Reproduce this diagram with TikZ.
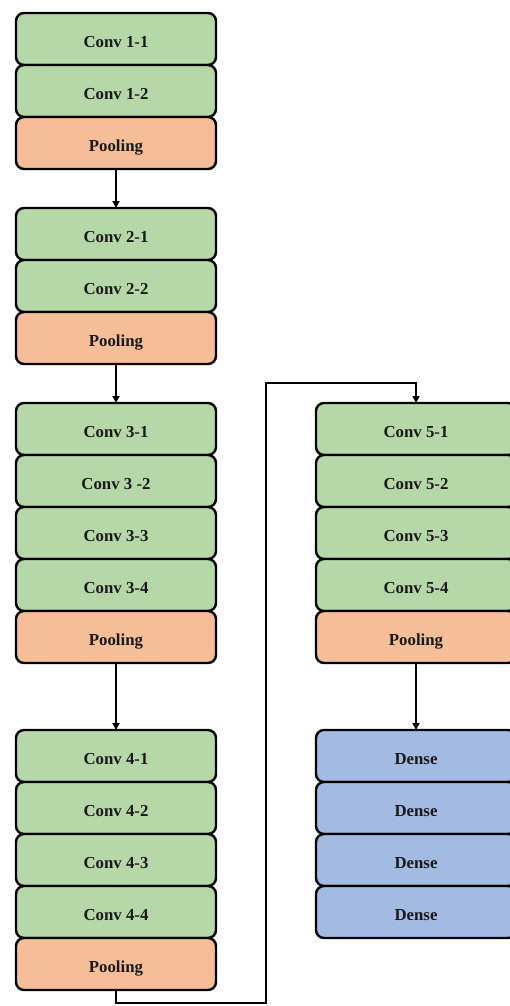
\documentclass[tikz,border=0pt]{standalone}
\usepackage{fontspec}
\setmainfont{Liberation Serif}
\usetikzlibrary{positioning,arrows.meta}
\definecolor{convgreen}{HTML}{B6D7A8}
\definecolor{poolorange}{HTML}{F6BE98}
\definecolor{denseblue}{HTML}{A3BAE2}
\tikzset{
  layer/.style = {draw=black, line width=2.4pt, rounded corners=8pt, outer sep=0pt,
    minimum width=200pt, minimum height=52pt, inner sep=0pt, text height=17pt, text depth=0pt,
    font=\fontsize{16.8}{18}\selectfont\bfseries, text=black!90},
  conv/.style = {layer, fill=convgreen},
  pool/.style = {layer, fill=poolorange},
  dense/.style = {layer, fill=denseblue},
  link/.style = {line width=2pt, -{Triangle[length=7pt,width=7pt]}},
  node distance=0pt,
}
\begin{document}
\begin{tikzpicture}[x=1pt,y=1pt]
\useasboundingbox (0,0) rectangle (510,-1006);
% block 1
\node [conv] (c11) at (116,-39) {Conv 1-1};
\node [conv, below=of c11] (c12) {Conv 1-2};
\node [pool, below=of c12] (p1) {Pooling};
% block 2
\node [conv, below=39pt of p1] (c21) {Conv 2-1};
\node [conv, below=of c21] (c22) {Conv 2-2};
\node [pool, below=of c22] (p2) {Pooling};
% block 3
\node [conv, below=39pt of p2] (c31) {Conv 3-1};
\node [conv, below=of c31] (c32) {Conv 3 -2};
\node [conv, below=of c32] (c33) {Conv 3-3};
\node [conv, below=of c33] (c34) {Conv 3-4};
\node [pool, below=of c34] (p3) {Pooling};
% block 4
\node [conv, below=67pt of p3] (c41) {Conv 4-1};
\node [conv, below=of c41] (c42) {Conv 4-2};
\node [conv, below=of c42] (c43) {Conv 4-3};
\node [conv, below=of c43] (c44) {Conv 4-4};
\node [pool, below=of c44] (p4) {Pooling};
% block 5
\node [conv] (c51) at (416,-429) {Conv 5-1};
\node [conv, below=of c51] (c52) {Conv 5-2};
\node [conv, below=of c52] (c53) {Conv 5-3};
\node [conv, below=of c53] (c54) {Conv 5-4};
\node [pool, below=of c54] (p5) {Pooling};
% dense layers
\node [dense, below=67pt of p5] (d1) {Dense};
\node [dense, below=of d1] (d2) {Dense};
\node [dense, below=of d2] (d3) {Dense};
\node [dense, below=of d3] (d4) {Dense};
% connectors
\coordinate (lo) at (266,-1003);
\coordinate (hi) at (266,-383);
\draw [link] (p1) -- (c21);
\draw [link] (p2) -- (c31);
\draw [link] (p3) -- (c41);
\draw [link] (p4.south) |- (lo) -- (hi) -| (c51.north);
\draw [link] (p5) -- (d1);
\end{tikzpicture}
\end{document}
